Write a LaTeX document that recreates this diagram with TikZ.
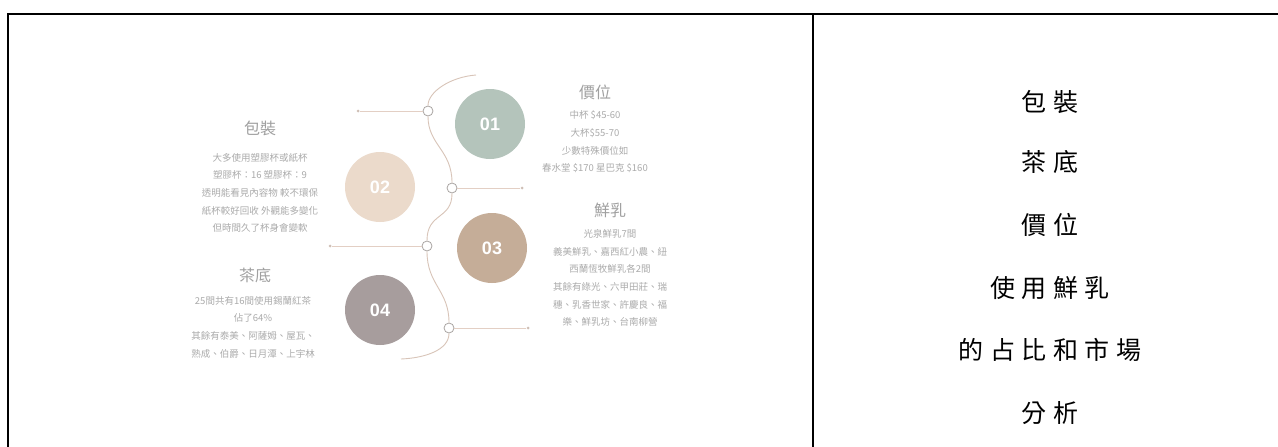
\documentclass[tikz,border=0pt]{standalone}
\usepackage{fontspec}
\setmainfont{Noto Sans CJK TC}
\newfontfamily\numfont{Liberation Sans}
\definecolor{cA}{HTML}{B4C4BB}
\definecolor{cB}{HTML}{EBDACB}
\definecolor{cC}{HTML}{C5AD98}
\definecolor{cD}{HTML}{A79D9D}
\definecolor{wave}{HTML}{D8C4B8}
\definecolor{hline}{HTML}{E3CFC4}
\definecolor{knotc}{HTML}{A9A4A2}
\definecolor{txt}{HTML}{ABABAB}
\definecolor{ttl}{HTML}{A0A0A0}
\newcommand\gp{\hspace{6.5pt}}
\tikzset{
  bigdot/.style={circle, minimum size=70pt, inner sep=0pt, text=white,
    font=\numfont\bfseries\fontsize{18}{18}\selectfont},
  knot/.style={circle, draw=knotc, fill=white, minimum size=10pt, inner sep=0pt, line width=0.8pt},
  enddot/.style={circle, fill=hline!80!gray, minimum size=3pt, inner sep=0pt},
  body/.style={text=txt, align=center, inner sep=0pt, font=\fontsize{9.5}{17.7}\selectfont},
  ttlnode/.style={text=ttl, inner sep=0pt, font=\fontsize{16}{16}\selectfont},
  celltext/.style={text=black, inner sep=0pt, font=\fontsize{25}{25}\selectfont},
  wavy/.style={draw=wave, line width=0.9pt},
  hl/.style={draw=hline, line width=0.9pt},
  rule/.style={draw=black, line width=2pt}
}
\begin{document}
\begin{tikzpicture}[x=1pt, y=-1pt]
\useasboundingbox[fill=white] (0,0) rectangle (1278,447);
% table rules
\draw[rule] (8,14) -- (1280,14);
\draw[rule] (8,13) -- (8,448);
\draw[rule] (813,14) -- (813,448);

% knots on the wave
\node[knot] (k1) at (428,111) {};
\node[knot] (k2) at (452,188) {};
\node[knot] (k3) at (427,246) {};
\node[knot] (k4) at (449,328) {};
\coordinate (wtop) at (476,75);
\coordinate (wbot) at (401,359);

% wave
\draw[wavy] (wtop) .. controls (450,77) and (428,92) .. (k1.north);
\draw[wavy] (k1.south) .. controls (428,145) and (452,150) .. (k2.north);
\draw[wavy] (k2.south) .. controls (452,220) and (427,212) .. (k3.north);
\draw[wavy] (k3.south) .. controls (427,285) and (449,290) .. (k4.north);
\draw[wavy] (k4.south) .. controls (449,350) and (425,358) .. (wbot);

% horizontal leaders
\node[enddot] (d1) at (358,111) {};
\node[enddot] (d2) at (522,188) {};
\node[enddot] (d3) at (330,246) {};
\node[enddot] (d4) at (528,328) {};
\draw[hl] (k1.west) -- (d1);
\draw[hl] (k2.east) -- (d2);
\draw[hl] (k3.west) -- (d3);
\draw[hl] (k4.east) -- (d4);

% big numbered circles
\node[bigdot, fill=cA] (n1) at (490,124) {01};
\node[bigdot, fill=cB] (n2) at (380,187) {02};
\node[bigdot, fill=cC] (n3) at (492,248) {03};
\node[bigdot, fill=cD] (n4) at (380,310) {04};

% text blocks
\node[ttlnode] (t1) at (595,92) {價位};
\node[body] (b1) at (595,142) {中杯 \$45-60\\大杯\$55-70\\少數特殊價位如\\春水堂 \$170 星巴克 \$160};

\node[ttlnode] (t2) at (260,128) {包裝};
\node[body] (b2) at (260,193) {大多使用塑膠杯或紙杯\\塑膠杯：16 塑膠杯：9\\透明能看見內容物 較不環保\\紙杯較好回收 外觀能多變化\\但時間久了杯身會變軟};

\node[ttlnode] (t3) at (610,210) {鮮乳};
\node[body] (b3) at (610,278) {光泉鮮乳7間\\義美鮮乳、嘉西紅小農、紐\\西蘭恆牧鮮乳各2間\\其餘有綠光、六甲田莊、瑞\\穗、乳香世家、許慶良、福\\樂、鮮乳坊、台南柳營};

\node[ttlnode] (t4) at (255,275) {茶底};
\node[body] (b4) at (253,327) {25間共有16間使用錫蘭紅茶\\佔了64\%\\其餘有泰美、阿薩姆、屋瓦、\\熟成、伯爵、日月潭、上宇林};

% right cell
\node[celltext] (r1) at (1050,102) {包\gp 裝};
\node[celltext] (r2) at (1050,162) {茶\gp 底};
\node[celltext] (r3) at (1050,225) {價\gp 位};
\node[celltext] (r4) at (1050,288) {使\gp 用\gp 鮮\gp 乳};
\node[celltext] (r5) at (1050,350) {的\gp 占\gp 比\gp 和\gp 市\gp 場};
\node[celltext] (r6) at (1050,413) {分\gp 析};
\end{tikzpicture}
\end{document}
